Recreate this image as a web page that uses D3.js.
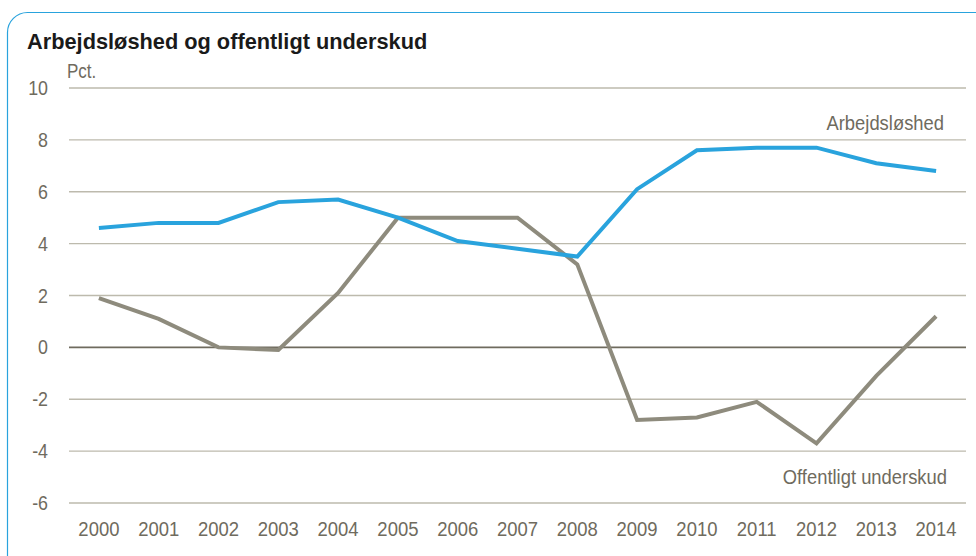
<html>
    <body style="margin:0;background:#fff;">
        <script src="https://d3js.org/d3.v7.min.js"></script>

        <div id="my_dataviz"></div>

        <script>
            // data
            var years = ["2000","2001","2002","2003","2004","2005","2006","2007","2008","2009","2010","2011","2012","2013","2014"];
            var unemployment = [4.6, 4.8, 4.8, 5.6, 5.7, 5.0, 4.1, 3.8, 3.5, 6.1, 7.6, 7.7, 7.7, 7.1, 6.8];
            var deficit = [1.9, 1.1, 0.0, -0.1, 2.1, 5.0, 5.0, 5.0, 3.2, -2.8, -2.7, -2.1, -3.7, -1.1, 1.2];
            var yTicks = [-6, -4, -2, 0, 2, 4, 6, 8, 10];

            var font = "'Liberation Sans', Arial, sans-serif";
            var textColor = "#6f6b5e";

            // condensed-looking text: draw normal font squeezed horizontally
            function narrowText(g, px, py, str, anchor, size, sx) {
              return g.append("text")
                .attr("transform", "translate(" + px + "," + py + ") scale(" + sx + ",1)")
                .attr("text-anchor", anchor)
                .style("font-family", font)
                .style("font-size", size + "px")
                .attr("fill", textColor)
                .text(str);
            }

            var W = 976, H = 556;
            var svg = d3.select("#my_dataviz")
              .append("svg")
                .attr("width", W)
                .attr("height", H);

            // rounded frame, partly outside the picture
            svg.append("rect")
              .attr("x", 7.5).attr("y", 12.5)
              .attr("width", 990).attr("height", 570)
              .attr("rx", 20).attr("ry", 20)
              .attr("fill", "none")
              .attr("stroke", "#29a3dd")
              .attr("stroke-width", 1.2);

            svg.append("text")
              .attr("transform", "translate(27,49) scale(0.99,1)")
              .style("font-family", font)
              .style("font-weight", "bold")
              .style("font-size", "22px")
              .attr("fill", "#1a1a1a")
              .text("Arbejdsløshed og offentligt underskud");

            var plotLeft = 69, plotRight = 966, plotTop = 88, plotBottom = 503;

            var x = d3.scalePoint()
              .domain(years)
              .range([plotLeft, plotRight])
              .padding(0.5);

            var y = d3.scaleLinear()
              .domain([-6, 10])
              .range([plotBottom, plotTop]);

            // grid lines
            svg.append("g")
              .selectAll("line")
              .data(yTicks)
              .enter()
              .append("line")
                .attr("x1", plotLeft).attr("x2", plotRight)
                .attr("y1", function(d) { return y(d); })
                .attr("y2", function(d) { return y(d); })
                .attr("stroke", function(d) { return d === 0 ? "#6f6b5e" : "#bdbaad"; })
                .attr("stroke-width", function(d) { return d === 0 ? 1.8 : 1.3; });

            // Y axis labels
            var yLab = svg.append("g");
            yTicks.forEach(function(d) {
              narrowText(yLab, 48, y(d) + 7, d, "end", 21, 0.85);
            });

            // X axis labels
            var xLab = svg.append("g");
            years.forEach(function(d) {
              narrowText(xLab, x(d), 536, d, "middle", 21, 0.88);
            });

            narrowText(svg, 67, 78, "Pct.", "start", 20, 0.85);

            var line = d3.line()
              .x(function(d, i) { return x(years[i]); })
              .y(function(d) { return y(d); });

            svg.append("path")
              .datum(deficit)
              .attr("d", line)
              .attr("fill", "none")
              .attr("stroke", "#8e8b7d")
              .attr("stroke-width", 4);

            svg.append("path")
              .datum(unemployment)
              .attr("d", line)
              .attr("fill", "none")
              .attr("stroke", "#29a3dd")
              .attr("stroke-width", 4);

            narrowText(svg, 944, 130, "Arbejdsløshed", "end", 20, 0.92);
            narrowText(svg, 947, 484, "Offentligt underskud", "end", 20, 0.92);
        </script>
    </body>
</html>
